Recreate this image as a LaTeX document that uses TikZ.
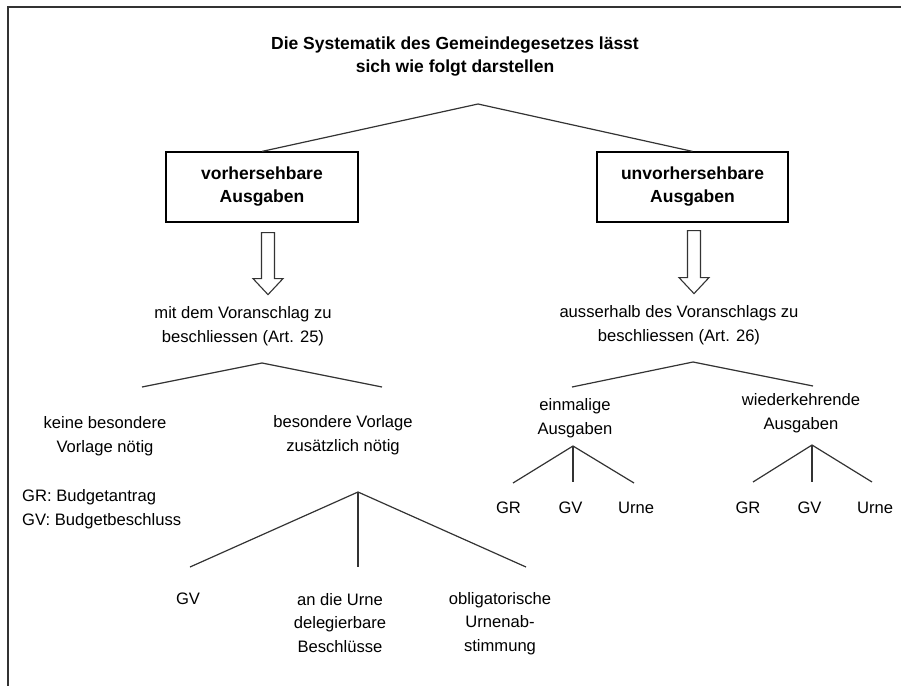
\documentclass[tikz,border=0pt]{standalone}
\usepackage{fontspec}
\setmainfont{Liberation Sans}
\usetikzlibrary{positioning}

\begin{document}
\begin{tikzpicture}[
  x=1pt, y=-1pt,
  box/.style={draw, line width=1.2pt, align=center, minimum width=192pt,
    minimum height=70pt, inner sep=2pt, font=\fontsize{17.5}{23}\selectfont\bfseries},
  txt/.style={align=center, inner sep=0pt, font=\fontsize{16.6}{23.8}\selectfont},
  head/.style={align=center, inner sep=0pt, font=\fontsize{17.5}{23}\selectfont\bfseries},
  branch/.style={line width=1.2pt, black!80},
  hollow/.style={line width=1.1pt, black!80, fill=white},
  frame/.style={line width=2.5pt, black!80}
]
\useasboundingbox (0,0) rectangle (901,686);
\draw[frame] (901,7) -- (8,7) -- (8,686);

\node[head] (title) at (455,56.5) {Die Systematik des Gemeindegesetzes lässt\\sich wie folgt darstellen};

\node[box] (vorher) at (262,187) {vorhersehbare\\Ausgaben};
\node[box, minimum width=191pt] (unvorher) at (692.5,187) {unvorhersehbare\\Ausgaben};

\node[txt] (mitVA) at (243,326.5) {mit dem Voranschlag zu\\beschliessen (Art. 25)};
\node[txt] (ausserVA) at (679,325) {ausserhalb des Voranschlags zu\\beschliessen (Art. 26)};

\node[txt] (keine) at (105,436.5) {keine besondere\\Vorlage nötig};
\node[txt] (besondere) at (343,435) {besondere Vorlage\\zusätzlich nötig};
\node[txt, align=left, anchor=west] (budget) at (22,509) {GR: Budgetantrag\\GV: Budgetbeschluss};

\node[txt] (gvA) at (188,599) {GV};
\node[txt] (delegiert) at (340,623) {an die Urne\\delegierbare\\Beschlüsse};
\node[txt] (oblig) at (500,623.5) {obligatorische\\Urnenab-\\stimmung};

\node[txt] (einmal) at (575,418) {einmalige\\Ausgaben};
\node[txt] (wieder) at (801,413.5) {wiederkehrende\\Ausgaben};

\node[txt] (grE) at (508.5,508) {GR};
\node[txt] (gvE) at (570.5,508) {GV};
\node[txt] (urneE) at (636,508) {Urne};
\node[txt] (grW) at (748,508) {GR};
\node[txt] (gvW) at (809.5,508) {GV};
\node[txt] (urneW) at (875,508) {Urne};

% branch points
\coordinate (top) at (478,104);
\coordinate (forkV) at (262,363);
\coordinate (forkV1) at (142,387);
\coordinate (forkV2) at (382,387);
\coordinate (forkU) at (693,362);
\coordinate (forkU1) at (572,387);
\coordinate (forkU2) at (813,386);
\coordinate (forkB) at (358,492);
\coordinate (forkB1) at (190,567);
\coordinate (forkB2) at (358,567);
\coordinate (forkB3) at (526,567);
\coordinate (forkE) at (573,446);
\coordinate (forkE1) at (513,483);
\coordinate (forkE2) at (573,482);
\coordinate (forkE3) at (634,483);
\coordinate (forkW) at (812,445);
\coordinate (forkW1) at (753,482);
\coordinate (forkW2) at (812,482);
\coordinate (forkW3) at (872,482);

\draw[branch] (vorher.north) -- (top) -- (unvorher.north);
\draw[branch] (forkV1) -- (forkV) -- (forkV2);
\draw[branch] (forkU1) -- (forkU) -- (forkU2);
\draw[branch] (forkB1) -- (forkB) -- (forkB3);
\draw[branch] (forkB) -- (forkB2);
\draw[branch] (forkE1) -- (forkE) -- (forkE3);
\draw[branch] (forkE) -- (forkE2);
\draw[branch] (forkW1) -- (forkW) -- (forkW3);
\draw[branch] (forkW) -- (forkW2);

% hollow arrows
\draw[hollow] ([shift={(-0.5,10)}]vorher.south) -- ++(0,46) -- ++(-8.5,0) -- ++(15,16)
  -- ++(15,-16) -- ++(-8.5,0) -- ++(0,-46) -- cycle;
\draw[hollow] ([shift={(-5,8)}]unvorher.south) -- ++(0,47) -- ++(-8.5,0) -- ++(15,16)
  -- ++(15,-16) -- ++(-8.5,0) -- ++(0,-47) -- cycle;
\end{tikzpicture}
\end{document}
